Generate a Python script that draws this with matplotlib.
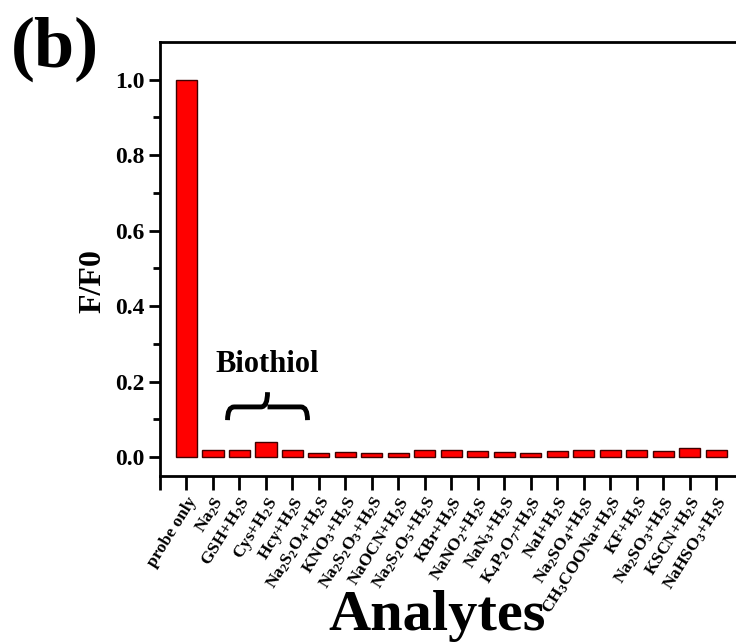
import matplotlib
matplotlib.use("Agg")
import matplotlib.pyplot as plt
from matplotlib.path import Path
from matplotlib.patches import PathPatch
import numpy as np

plt.rcParams['font.family'] = ['Liberation Serif', 'DejaVu Serif']
plt.rcParams['font.weight'] = 'bold'
plt.rcParams['mathtext.fontset'] = 'custom'
plt.rcParams['mathtext.rm'] = 'Liberation Serif:bold'
plt.rcParams['mathtext.it'] = 'Liberation Serif:bold'
plt.rcParams['mathtext.bf'] = 'Liberation Serif:bold'
plt.rcParams['mathtext.default'] = 'rm'

categories = [
    "probe only", r"Na$_2$S", r"GSH+H$_2$S", r"Cys+H$_2$S", r"Hcy+H$_2$S",
    r"Na$_2$S$_2$O$_4$+H$_2$S", r"KNO$_3$+H$_2$S", r"Na$_2$S$_2$O$_3$+H$_2$S",
    r"NaOCN+H$_2$S", r"Na$_2$S$_2$O$_5$+H$_2$S", r"KBr+H$_2$S",
    r"NaNO$_2$+H$_2$S", r"NaN$_3$+H$_2$S", r"K$_4$P$_2$O$_7$+H$_2$S",
    r"NaI+H$_2$S", r"Na$_2$SO$_4$+H$_2$S", r"CH$_3$COONa+H$_2$S",
    r"KF+H$_2$S", r"Na$_2$SO$_3$+H$_2$S", r"KSCN+H$_2$S", r"NaHSO$_3$+H$_2$S",
]
values = [1.0, 0.019, 0.019, 0.041, 0.020, 0.012, 0.014, 0.012, 0.012, 0.020,
          0.020, 0.017, 0.013, 0.011, 0.017, 0.020, 0.020, 0.018, 0.017, 0.023, 0.020]
yticks = [0.0, 0.2, 0.4, 0.6, 0.8, 1.0]

fig = plt.figure(figsize=(7.36, 6.42), dpi=100)
ax = fig.add_axes([0.2174, 0.2586, 0.7826, 0.676])

x = np.arange(len(categories))
ax.bar(x, values, width=0.8, color='#ff0000', edgecolor='#400000', linewidth=1.0, zorder=3)

ax.set_xlim(-0.98, 20.75)
ax.set_ylim(-0.05, 1.10)

ax.set_xticks(np.arange(-1, len(categories)))
ax.set_xticklabels([""] + categories, rotation=58, ha='right', rotation_mode='anchor',
                   fontsize=12.5, fontweight='bold')
ax.set_yticks(yticks)
ax.set_yticklabels([f"{v:.1f}" for v in yticks], fontsize=17, fontweight='bold')
ax.set_yticks(np.arange(0.1, 1.05, 0.2), minor=True)

ax.tick_params(axis='x', direction='out', length=10, width=2, pad=3)
ax.tick_params(axis='y', which='major', direction='out', length=8, width=2, pad=3)
ax.tick_params(axis='y', which='minor', direction='out', length=5, width=2)

ax.spines['right'].set_visible(False)
for s in ['left', 'bottom', 'top']:
    ax.spines[s].set_linewidth(2)

ax.set_ylabel("F/F0", fontsize=23, fontweight='bold')
ax.yaxis.set_label_coords(-0.0915, 0.45)
fig.text(437 / 736, 12 / 642, "Analytes", ha='center', va='baseline',
         fontsize=42, fontweight='bold')

# Biothiol brace
x0, x1, xc = 1.55, 4.57, 3.06
yl, ye, yp = 0.133, 0.098, 0.172
verts = [(x0, ye), (x0, yl), (x0 + 0.25, yl),
         (xc - 0.25, yl), (xc, yl), (xc, yp),
         (xc, yl), (xc + 0.25, yl),
         (x1 - 0.25, yl), (x1, yl), (x1, ye)]
codes = [Path.MOVETO, Path.CURVE3, Path.CURVE3,
         Path.LINETO, Path.CURVE3, Path.CURVE3,
         Path.MOVETO, Path.LINETO,
         Path.LINETO, Path.CURVE3, Path.CURVE3]
ax.add_patch(PathPatch(Path(verts, codes), fill=False, lw=3.5, color='black',
                       capstyle='butt', zorder=4))
ax.text(xc, 0.245, "Biothiol", ha='center', va='center', fontsize=22, fontweight='bold')

fig.text(0.075, 0.924, "(b)", ha='center', va='center', fontsize=52, fontweight='bold')

fig.savefig("out.png", dpi=100, facecolor='white')
